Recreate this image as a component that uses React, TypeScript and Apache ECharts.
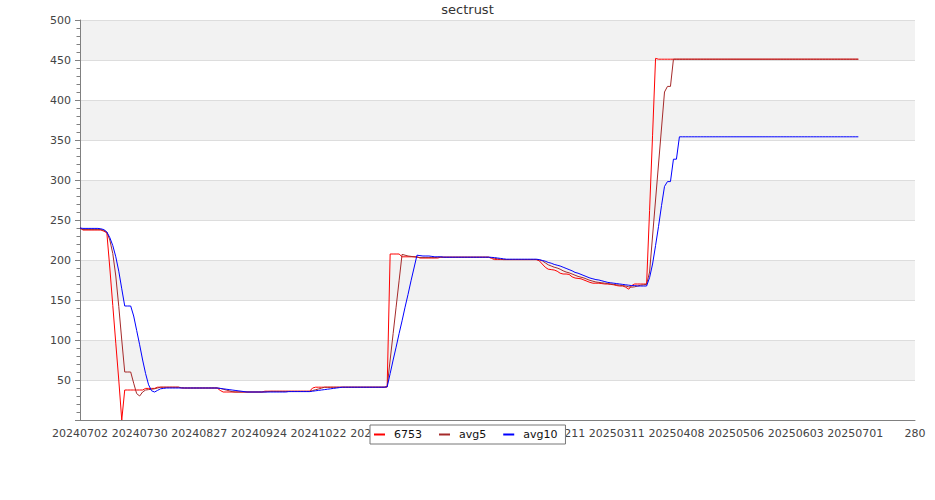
import React, { useEffect, useRef } from "react";
import * as echarts from "echarts";

const title = "sectrust";
const seriesNames = ["6753", "avg5", "avg10"];
const xTickLabels = [
  "20240702", "20240730", "20240827", "20240924", "20241022", "20241119", "20241217",
  "20250114", "20250211", "20250311", "20250408", "20250506", "20250603", "20250701", "280",
];

const s6753 = [
  240, 237.5, 237.5, 237.5, 237.5, 237.5, 237.5, 237.5, 236, 234,
  190, 143, 96, 50, 0, 37.5, 37.5, 37.5, 37.5, 37.5,
  37.5, 37.5, 39.5, 39.5, 39.5, 39.5, 41, 41, 41, 41,
  41, 41, 41, 41, 40, 40, 40, 40, 40, 40,
  40, 40, 40, 40, 40, 40, 40, 37, 35, 35,
  35, 35, 35, 35, 35, 35, 35, 35, 35, 35,
  35, 35, 36, 36, 36, 36, 36, 36, 36, 36,
  36, 36, 36, 36, 36, 36, 36, 36, 40, 41,
  41, 41, 41, 41, 41, 41, 41, 41, 41, 41,
  41, 41, 41, 41, 41, 41, 41, 41, 41, 41,
  41, 41, 41, 41.5, 207.5, 207.5, 207.5, 207.5, 204, 204,
  204, 204, 204, 204, 202.5, 202.5, 202.5, 202.5, 202.5, 202.5,
  202.5, 203.5, 203.5, 203.5, 203.5, 203.5, 203.5, 203.5, 203.5, 203.5,
  203.5, 203.5, 203.5, 203.5, 203.5, 203.5, 203.5, 203.5, 202, 200.5,
  200.5, 200.5, 200.5, 200.5, 200.5, 200.5, 200.5, 200.5, 200.5, 200.5,
  200.5, 200.5, 200.5, 200.5, 199, 195, 191, 188.5, 188, 187.5,
  186, 183.5, 182.5, 182.5, 182, 179, 177.5, 177, 176.5, 175,
  173.5, 172, 171, 171, 171, 170.5, 170, 170, 169.5, 169,
  168, 167.5, 167.5, 166, 163.5, 168, 170, 170, 170, 170,
  170, 262, 356, 452, 451, 451, 451, 451, 451, 451,
  451, 451, 451, 451, 451, 451, 451, 451, 451, 451,
  451, 451, 451, 451, 451, 451, 451, 451, 451, 451,
  451, 451, 451, 451, 451, 451, 451, 451, 451, 451,
  451, 451, 451, 451, 451, 451, 451, 451, 451, 451,
  451, 451, 451, 451, 451, 451, 451, 451, 451, 451,
  451, 451, 451, 451, 451, 451, 451, 451, 451, 451,
  451, 451,
];

const avg5 = [
  240, 238, 238, 238, 238, 238, 238, 238, 237, 235,
  225, 208, 180, 142, 100, 60, 60, 60, 46, 33,
  30, 35, 37.5, 38, 38.5, 39, 40, 41, 41, 41,
  41, 41, 41, 41, 40.5, 40, 40, 40, 40, 40,
  40, 40, 40, 40, 40, 40, 40, 39.5, 38.5, 37.5,
  36.5, 35.5, 35, 35, 35, 35, 35, 35, 35, 35,
  35, 35, 35, 35.5, 35.8, 35.8, 35.8, 35.8, 35.8, 35.8,
  35.8, 35.8, 35.8, 35.8, 35.8, 35.8, 35.8, 35.8, 36.8, 37.8,
  38.8, 39.8, 41, 41, 41, 41, 41, 41, 41, 41,
  41, 41, 41, 41, 41, 41, 41, 41, 41, 41,
  41, 41, 41, 41.5, 75, 108, 141, 174, 207, 206,
  205, 204.5, 204, 203.5, 203, 203, 203, 203, 203, 203,
  203.5, 203.5, 203.5, 203.5, 203.5, 203.5, 203.5, 203.5, 203.5, 203.5,
  203.5, 203.5, 203.5, 203.5, 203.5, 203.5, 203.5, 203.5, 203, 202,
  201.5, 201, 200.5, 200.5, 200.5, 200.5, 200.5, 200.5, 200.5, 200.5,
  200.5, 200.5, 200.5, 200.5, 200, 199, 196.5, 194, 192.5, 191,
  190, 188.5, 186.5, 185, 184, 182.5, 181, 179.5, 178.5, 177.5,
  176, 174.5, 173.5, 172.5, 172, 171.5, 171, 170.5, 170, 169.5,
  169, 168.5, 168, 167.5, 166.5, 166, 166.5, 167.5, 168.5, 169,
  169.5, 185, 230, 275, 320, 365, 410, 417, 417, 451,
  451, 451, 451, 451, 451, 451, 451, 451, 451, 451,
  451, 451, 451, 451, 451, 451, 451, 451, 451, 451,
  451, 451, 451, 451, 451, 451, 451, 451, 451, 451,
  451, 451, 451, 451, 451, 451, 451, 451, 451, 451,
  451, 451, 451, 451, 451, 451, 451, 451, 451, 451,
  451, 451, 451, 451, 451, 451, 451, 451, 451, 451,
  451, 451,
];

const avg10 = [
  240, 239.5, 239.5, 239.5, 239.5, 239.5, 239.5, 239, 238, 235,
  228, 218, 204, 186, 164, 142.5, 142.5, 142.5, 130, 112,
  94, 75, 58, 44, 36.5, 35, 37, 39, 39.5, 40,
  40, 40, 40, 40, 40, 40, 40, 40, 40, 40,
  40, 40, 40, 40, 40, 40, 40, 39.5, 39, 38.5,
  38, 37.5, 37, 36.5, 36, 35.5, 35, 35, 35, 35,
  35, 35, 35, 35, 35, 35, 35, 35, 35, 35,
  35.5, 35.5, 35.5, 35.5, 35.5, 35.5, 35.5, 35.5, 36, 36.5,
  37, 37.5, 38, 38.5, 39, 39.5, 40, 40.5, 41, 41,
  41, 41, 41, 41, 41, 41, 41, 41, 41, 41,
  41, 41, 41, 41.5, 58, 75, 91, 108, 124, 141,
  157, 174, 190, 206, 205.5, 205, 205, 205, 204.5, 204,
  204, 204, 203.5, 203.5, 203.5, 203.5, 203.5, 203.5, 203.5, 203.5,
  203.5, 203.5, 203.5, 203.5, 203.5, 203.5, 203.5, 203.5, 203.3, 203,
  202.5, 202, 201.5, 201, 201, 201, 201, 201, 201, 201,
  201, 201, 201, 201, 200.5, 199.5, 198.5, 197, 196, 194.5,
  193.5, 192.5, 191, 189.5, 188, 186.5, 184.5, 183.5, 182, 180.5,
  179, 177.5, 176.5, 175.5, 175, 174, 173, 172, 171.5, 171,
  170.5, 170, 169.5, 169, 168.5, 168, 168, 167.5, 167.5, 167.5,
  167.5, 178, 195, 218, 242, 268, 292, 298, 298, 326,
  326, 354, 354, 354, 354, 354, 354, 354, 354, 354,
  354, 354, 354, 354, 354, 354, 354, 354, 354, 354,
  354, 354, 354, 354, 354, 354, 354, 354, 354, 354,
  354, 354, 354, 354, 354, 354, 354, 354, 354, 354,
  354, 354, 354, 354, 354, 354, 354, 354, 354, 354,
  354, 354, 354, 354, 354, 354, 354, 354, 354, 354,
  354, 354,
];

const seriesColors = ["#ff0000", "#a52a2a", "#0000ff"];
const FONT = "DejaVu Sans";

export default function App() {
  const ref = useRef<HTMLDivElement>(null);
  useEffect(() => {
    if (!ref.current) return;
    const chart = echarts.init(ref.current, null, { renderer: "svg" });
    const all = [s6753, avg5, avg10];
    chart.setOption({
      animation: false,
      backgroundColor: "#ffffff",
      title: {
        text: title,
        left: "center",
        top: -2,
        textStyle: { fontFamily: FONT, fontSize: 13, fontWeight: "normal", color: "#333" },
      },
      grid: { left: 80, right: 20, top: 20, bottom: 80, containLabel: false },
      legend: {
        data: seriesNames,
        left: 370,
        top: 425,
        orient: "horizontal",
        backgroundColor: "#ffffff",
        borderColor: "#777777",
        borderWidth: 1,
        borderRadius: 0,
        padding: [4, 8, 4, 4],
        itemGap: 17,
        itemWidth: 11,
        itemHeight: 2,
        icon: "rect",
        textStyle: { fontFamily: FONT, fontSize: 11, color: "#111", padding: [0, 0, 0, 4] },
        z: 10,
      },
      xAxis: {
        type: "value",
        min: 0,
        max: 280,
        interval: 20,
        axisLine: { show: true, lineStyle: { color: "#808080", width: 1 } },
        axisTick: { show: false },
        splitLine: { show: false },
        axisLabel: {
          fontFamily: FONT,
          fontSize: 11,
          color: "#444",
          margin: 8,
          showMinLabel: true,
          showMaxLabel: true,
          formatter: (v: number) => xTickLabels[Math.round(v / 20)] ?? String(v),
        },
      },
      yAxis: {
        type: "value",
        min: 0,
        max: 500,
        interval: 50,
        axisLine: { show: true, lineStyle: { color: "#808080", width: 1 } },
        axisTick: { show: true, inside: false, length: 5, lineStyle: { color: "#808080" } },
        minorTick: { show: true, splitNumber: 5, length: 3.5, lineStyle: { color: "#808080" } },
        splitLine: { show: true, lineStyle: { color: "#dddddd", width: 1 } },
        splitArea: { show: true, areaStyle: { color: ["#ffffff", "#f2f2f2"] } },
        axisLabel: {
          fontFamily: FONT,
          fontSize: 11,
          color: "#444",
          margin: 9,
          showMinLabel: false,
        },
      },
      series: seriesNames.map((name, k) => ({
        name,
        type: "line",
        data: all[k].map((v, i) => [i, v]),
        symbol: "none",
        showSymbol: false,
        smooth: false,
        lineStyle: { width: 1, color: seriesColors[k] },
        itemStyle: { color: seriesColors[k] },
      })),
    });
    return () => chart.dispose();
  }, []);
  return (
    <div
      ref={ref}
      style={{ position: "fixed", left: 0, top: 0, width: 935, height: 500 }}
    />
  );
}
